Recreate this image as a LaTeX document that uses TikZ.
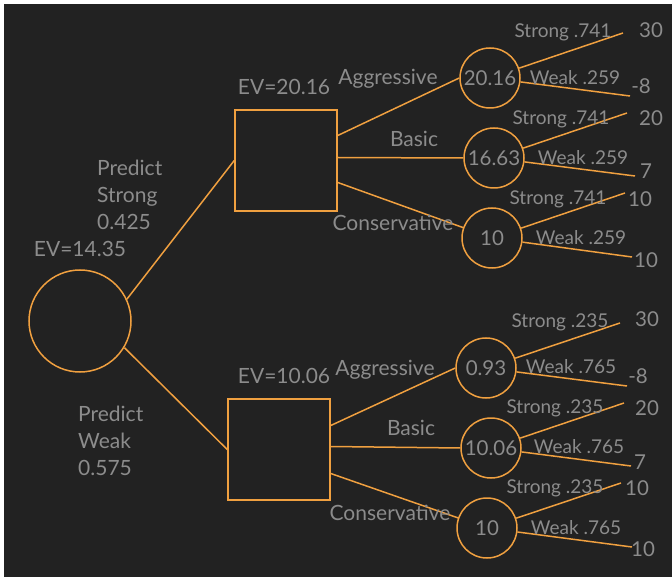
\documentclass[tikz,border=0pt]{standalone}
\usepackage{fontspec}
\setmainfont{Lato}
\definecolor{panel}{HTML}{222222}
\definecolor{branch}{HTML}{F0A040}
\definecolor{labelgray}{HTML}{8C8C8C}

\begin{document}
\begin{tikzpicture}[x=1pt,y=-1pt,
  chance/.style={circle,draw=branch,line width=1.5pt,inner sep=0pt,minimum size=#1},
  decision/.style={rectangle,draw=branch,line width=1.5pt,minimum width=102pt,minimum height=101pt},
  lbl/.style={text=labelgray,inner sep=0pt,font=\fontsize{21}{27}\selectfont},
  num/.style={text=labelgray,inner sep=0pt,font=\fontsize{20.5}{24}\selectfont},
  prob/.style={text=labelgray,inner sep=0pt,font=\fontsize{19}{22}\selectfont},
  edge/.style={draw=branch,line width=1.5pt}]
  \fill[white] (0,0) rectangle (672,577);
  \fill[panel] (4,4) rectangle (672,577);

  % root and decisions
  \node[chance=102pt] (root) at (80,321) {};
  \node[decision] (ubox) at (286,160.5) {};
  \node[decision] (lbox) at (279,449.5) {};
  \node[lbl] (rootev) at (80,249) {EV=14.35};
  \node[lbl] (uboxev) at (284,87) {EV=20.16};
  \node[lbl] (lboxev) at (284,376) {EV=10.06};
  \node[lbl,align=left,anchor=west] (pstrong) at (97,195) {Predict\\Strong\\0.425};
  \node[lbl,align=left,anchor=west] (pweak) at (78,441) {Predict\\Weak\\0.575};

  % chance nodes
  \node[chance=60pt,num] (ua) at (490,78) {20.16};
  \node[chance=60pt,num] (ub) at (494,158) {16.63};
  \node[chance=60pt,num] (uc) at (492,238) {10};
  \node[chance=60pt,num] (la) at (486,368) {0.93};
  \node[chance=60pt,num] (lb) at (491,448) {10.06};
  \node[chance=60pt,num] (lc) at (487,528) {10};

  \draw[edge] (root.25) -- (ubox.west);
  \draw[edge] (root.-31) -- (lbox.west);
  \draw[edge] ([yshift=25pt]ubox.east) -- (ua.west);
  \draw[edge] ([yshift=3pt]ubox.east) -- (ub.west);
  \draw[edge] ([yshift=-22pt]ubox.east) -- (uc);
  \draw[edge] ([yshift=24pt]lbox.east) -- (la.west);
  \draw[edge] ([yshift=3pt]lbox.east) -- (lb.west);
  \draw[edge] ([yshift=-24pt]lbox.east) -- (lc);
  \node[lbl] (uagg) at (388,79) {Aggressive};
  \node[lbl] (ubas) at (414,139) {Basic};
  \node[lbl] (ucon) at (393,223) {Conservative};
  \node[lbl] (lagg) at (385,370) {Aggressive};
  \node[lbl] (lbas) at (411,428) {Basic};
  \node[lbl] (lcon) at (390,513) {Conservative};

  % outcome ends
  \coordinate (ua-s) at (623,33);  \coordinate (ua-w) at (630,96);
  \coordinate (ub-s) at (627,113); \coordinate (ub-w) at (635,176);
  \coordinate (uc-s) at (625,193); \coordinate (uc-w) at (632,257);
  \coordinate (la-s) at (620,323); \coordinate (la-w) at (627,386);
  \coordinate (lb-s) at (624,403); \coordinate (lb-w) at (631,466);
  \coordinate (lc-s) at (621,483); \coordinate (lc-w) at (632,547);
  \foreach \c in {ua,ub,uc,la,lb,lc}{
    \draw[edge] (\c) -- (\c-s);
    \draw[edge] (\c) -- (\c-w);
  }

  \node[prob] (ua-sp) at (563,32) {Strong .741};
  \node[prob] (ua-wp) at (575,78) {Weak .259};
  \node[prob] (ub-sp) at (561,119) {Strong .741};
  \node[prob] (ub-wp) at (583,158) {Weak .259};
  \node[prob] (uc-sp) at (558,199) {Strong .741};
  \node[prob] (uc-wp) at (581,238) {Weak .259};
  \node[prob] (la-sp) at (560,322) {Strong .235};
  \node[prob] (la-wp) at (571,367) {Weak .765};
  \node[prob] (lb-sp) at (555,408) {Strong .235};
  \node[prob] (lb-wp) at (579,447) {Weak .765};
  \node[prob] (lc-sp) at (555,488) {Strong .235};
  \node[prob] (lc-wp) at (576,528) {Weak .765};

  \node[num] (ua-sv) at (651,30) {30};
  \node[num] (ua-wv) at (641,86) {-8};
  \node[num] (ub-sv) at (651,118) {20};
  \node[num] (ub-wv) at (646,171) {7};
  \node[num] (uc-sv) at (640,199) {10};
  \node[num] (uc-wv) at (646,260) {10};
  \node[num] (la-sv) at (647,319) {30};
  \node[num] (la-wv) at (638,376) {-8};
  \node[num] (lb-sv) at (647,408) {20};
  \node[num] (lb-wv) at (640,462) {7};
  \node[num] (lc-sv) at (637,488) {10};
  \node[num] (lc-wv) at (643,549) {10};
\end{tikzpicture}
\end{document}
